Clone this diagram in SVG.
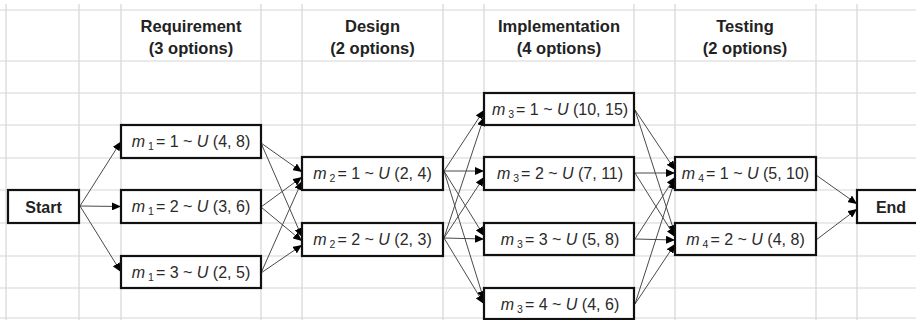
<svg xmlns="http://www.w3.org/2000/svg" width="916" height="320" viewBox="0 0 916 320">
<defs>
<style>
.grid line{stroke:#d6d6d6;stroke-width:1.2}
.box{fill:#fff;stroke:#111;stroke-width:2.2}
.hdr{font-family:"Liberation Sans",Arial,sans-serif;font-weight:bold;font-size:16.5px;fill:#222;text-anchor:middle}
.se{font-family:"Liberation Sans",Arial,sans-serif;font-weight:bold;font-size:16px;fill:#222;text-anchor:middle}
.lbl{font-family:"Liberation Sans",Arial,sans-serif;font-size:16px;fill:#2a2a2a;text-anchor:middle}
.it{font-style:italic}
.sub{font-size:10.5px}
#connectors line{stroke:#4a4a4a;stroke-width:1;marker-end:url(#arr)}
</style>
<marker id="arr" markerUnits="userSpaceOnUse" markerWidth="9" markerHeight="8" refX="9" refY="4" orient="auto">
<path d="M0,0 L9,4 L0,8 z" fill="#000"/>
</marker>
</defs>
<rect width="916" height="320" fill="#fff"/>
<g class="grid">
<line x1="6" y1="4" x2="6" y2="320"/>
<line x1="79" y1="4" x2="79" y2="320"/>
<line x1="121" y1="4" x2="121" y2="320"/>
<line x1="261" y1="4" x2="261" y2="320"/>
<line x1="302" y1="4" x2="302" y2="320"/>
<line x1="443" y1="4" x2="443" y2="320"/>
<line x1="484" y1="4" x2="484" y2="320"/>
<line x1="634" y1="4" x2="634" y2="320"/>
<line x1="675" y1="4" x2="675" y2="320"/>
<line x1="816" y1="4" x2="816" y2="320"/>
<line x1="857" y1="4" x2="857" y2="320"/>
<line x1="0" y1="10" x2="916" y2="10"/>
<line x1="0" y1="61" x2="916" y2="61"/>
<line x1="0" y1="93" x2="916" y2="93"/>
<line x1="0" y1="125" x2="916" y2="125"/>
<line x1="0" y1="158" x2="916" y2="158"/>
<line x1="0" y1="190" x2="916" y2="190"/>
<line x1="0" y1="223" x2="916" y2="223"/>
<line x1="0" y1="256" x2="916" y2="256"/>
<line x1="0" y1="288" x2="916" y2="288"/>
<line x1="0" y1="318" x2="916" y2="318"/>
</g>
<g id="headers">
<text class="hdr" x="191" y="32">Requirement</text>
<text class="hdr" x="191" y="54">(3 options)</text>
<text class="hdr" x="372.5" y="32">Design</text>
<text class="hdr" x="372.5" y="54">(2 options)</text>
<text class="hdr" x="559" y="32">Implementation</text>
<text class="hdr" x="559" y="54">(4 options)</text>
<text class="hdr" x="745" y="32">Testing</text>
<text class="hdr" x="745" y="54">(2 options)</text>
</g>
<g id="connectors">
<line x1="80" y1="206" x2="121" y2="141.5"/>
<line x1="80" y1="206" x2="121" y2="206.5"/>
<line x1="80" y1="206" x2="121" y2="272"/>
<line x1="261" y1="143" x2="302" y2="172"/>
<line x1="261" y1="143" x2="302" y2="237"/>
<line x1="261" y1="207" x2="302" y2="177"/>
<line x1="261" y1="207" x2="302" y2="241"/>
<line x1="261" y1="273" x2="302" y2="181"/>
<line x1="261" y1="273" x2="302" y2="245"/>
<line x1="444" y1="171" x2="484" y2="110"/>
<line x1="444" y1="171" x2="484" y2="171"/>
<line x1="444" y1="171" x2="484" y2="236"/>
<line x1="444" y1="171" x2="484" y2="300"/>
<line x1="444" y1="238" x2="484" y2="117"/>
<line x1="444" y1="238" x2="484" y2="177"/>
<line x1="444" y1="238" x2="484" y2="239"/>
<line x1="444" y1="238" x2="484" y2="304"/>
<line x1="635" y1="110" x2="675" y2="170"/>
<line x1="635" y1="110" x2="675" y2="234"/>
<line x1="635" y1="173" x2="675" y2="173"/>
<line x1="635" y1="173" x2="675" y2="237"/>
<line x1="635" y1="239" x2="675" y2="177"/>
<line x1="635" y1="239" x2="675" y2="240"/>
<line x1="635" y1="304" x2="675" y2="180"/>
<line x1="635" y1="304" x2="675" y2="244"/>
<line x1="816" y1="175" x2="857" y2="204"/>
<line x1="816" y1="240" x2="857" y2="209"/>
</g>
<g id="start">
<rect class="box" x="8" y="190" width="71" height="33"/>
<text class="se" x="43.5" y="212.5">Start</text>
</g>
<g id="m1_1">
<rect class="box" x="121" y="125" width="140" height="33"/>
<text class="lbl" x="191" y="147"><tspan class="it">m</tspan><tspan class="sub" dx="3" dy="3">1</tspan><tspan dx="2" dy="-3">= 1 ~ </tspan><tspan class="it">U</tspan> (4, 8)</text>
</g>
<g id="m1_2">
<rect class="box" x="121" y="190" width="140" height="33"/>
<text class="lbl" x="191" y="212"><tspan class="it">m</tspan><tspan class="sub" dx="3" dy="3">1</tspan><tspan dx="2" dy="-3">= 2 ~ </tspan><tspan class="it">U</tspan> (3, 6)</text>
</g>
<g id="m1_3">
<rect class="box" x="121" y="256" width="140" height="32"/>
<text class="lbl" x="191" y="277.5"><tspan class="it">m</tspan><tspan class="sub" dx="3" dy="3">1</tspan><tspan dx="2" dy="-3">= 3 ~ </tspan><tspan class="it">U</tspan> (2, 5)</text>
</g>
<g id="m2_1">
<rect class="box" x="302" y="157" width="141" height="33"/>
<text class="lbl" x="372.5" y="179"><tspan class="it">m</tspan><tspan class="sub" dx="3" dy="3">2</tspan><tspan dx="2" dy="-3">= 1 ~ </tspan><tspan class="it">U</tspan> (2, 4)</text>
</g>
<g id="m2_2">
<rect class="box" x="302" y="223" width="141" height="33"/>
<text class="lbl" x="372.5" y="245"><tspan class="it">m</tspan><tspan class="sub" dx="3" dy="3">2</tspan><tspan dx="2" dy="-3">= 2 ~ </tspan><tspan class="it">U</tspan> (2, 3)</text>
</g>
<g id="m3_1">
<rect class="box" x="484" y="93" width="150" height="32"/>
<text class="lbl" x="560" y="114.5"><tspan class="it">m</tspan><tspan class="sub" dx="3" dy="3">3</tspan><tspan dx="2" dy="-3">= 1 ~ </tspan><tspan class="it">U</tspan> (10, 15)</text>
</g>
<g id="m3_2">
<rect class="box" x="484" y="157" width="150" height="33"/>
<text class="lbl" x="560" y="179"><tspan class="it">m</tspan><tspan class="sub" dx="3" dy="3">3</tspan><tspan dx="2" dy="-3">= 2 ~ </tspan><tspan class="it">U</tspan> (7, 11)</text>
</g>
<g id="m3_3">
<rect class="box" x="484" y="223" width="150" height="32"/>
<text class="lbl" x="560" y="244.5"><tspan class="it">m</tspan><tspan class="sub" dx="3" dy="3">3</tspan><tspan dx="2" dy="-3">= 3 ~ </tspan><tspan class="it">U</tspan> (5, 8)</text>
</g>
<g id="m3_4">
<rect class="box" x="484" y="288" width="150" height="31"/>
<text class="lbl" x="560" y="309.5"><tspan class="it">m</tspan><tspan class="sub" dx="3" dy="3">3</tspan><tspan dx="2" dy="-3">= 4 ~ </tspan><tspan class="it">U</tspan> (4, 6)</text>
</g>
<g id="m4_1">
<rect class="box" x="675" y="157" width="141" height="33"/>
<text class="lbl" x="745.5" y="179"><tspan class="it">m</tspan><tspan class="sub" dx="3" dy="3">4</tspan><tspan dx="2" dy="-3">= 1 ~ </tspan><tspan class="it">U</tspan> (5, 10)</text>
</g>
<g id="m4_2">
<rect class="box" x="675" y="223" width="141" height="32"/>
<text class="lbl" x="745.5" y="244.5"><tspan class="it">m</tspan><tspan class="sub" dx="3" dy="3">4</tspan><tspan dx="2" dy="-3">= 2 ~ </tspan><tspan class="it">U</tspan> (4, 8)</text>
</g>
<g id="end">
<rect class="box" x="857" y="190" width="72" height="33"/>
<text class="se" x="891" y="212.5">End</text>
</g>
</svg>
